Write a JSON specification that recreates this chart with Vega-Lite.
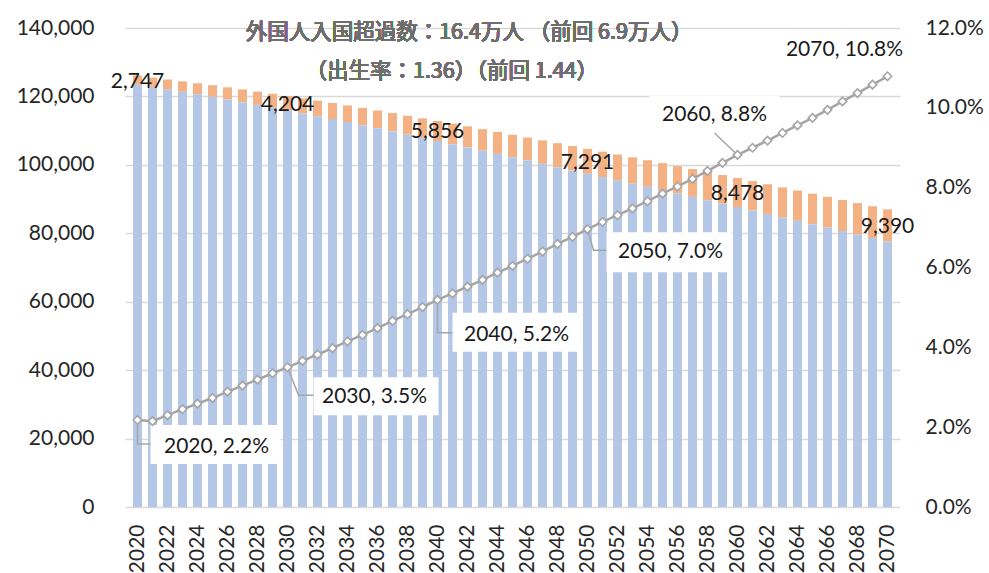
{
  "$schema": "https://vega.github.io/schema/vega-lite/v6.json",
  "width": 775,
  "height": 479,
  "autosize": {"type": "none"},
  "padding": {"left": 125, "top": 28, "right": 89, "bottom": 66},
  "background": "white",
  "config": {
    "view": {"stroke": null},
    "font": "Lato",
    "axis": {"labelFont": "Lato", "labelFontSize": 21, "labelColor": "#262626"}
  },
  "data": {
    "values": [
      {"year": 2020, "japanese": 123399, "foreign": 2747, "total": 126146, "pct": 2.18},
      {"year": 2021, "japanese": 122802, "foreign": 2700, "total": 125502, "pct": 2.15},
      {"year": 2022, "japanese": 122067, "foreign": 2880, "total": 124947, "pct": 2.30},
      {"year": 2023, "japanese": 121358, "foreign": 3050, "total": 124408, "pct": 2.45},
      {"year": 2024, "japanese": 120634, "foreign": 3210, "total": 123844, "pct": 2.59},
      {"year": 2025, "japanese": 119892, "foreign": 3370, "total": 123262, "pct": 2.73},
      {"year": 2026, "japanese": 119121, "foreign": 3540, "total": 122661, "pct": 2.89},
      {"year": 2027, "japanese": 118334, "foreign": 3710, "total": 122044, "pct": 3.04},
      {"year": 2028, "japanese": 117539, "foreign": 3875, "total": 121414, "pct": 3.19},
      {"year": 2029, "japanese": 116731, "foreign": 4040, "total": 120771, "pct": 3.35},
      {"year": 2030, "japanese": 115912, "foreign": 4204, "total": 120116, "pct": 3.50},
      {"year": 2031, "japanese": 115078, "foreign": 4370, "total": 119448, "pct": 3.66},
      {"year": 2032, "japanese": 114232, "foreign": 4535, "total": 118767, "pct": 3.82},
      {"year": 2033, "japanese": 113374, "foreign": 4700, "total": 118074, "pct": 3.98},
      {"year": 2034, "japanese": 112502, "foreign": 4865, "total": 117367, "pct": 4.15},
      {"year": 2035, "japanese": 111609, "foreign": 5030, "total": 116639, "pct": 4.31},
      {"year": 2036, "japanese": 110695, "foreign": 5195, "total": 115890, "pct": 4.48},
      {"year": 2037, "japanese": 109770, "foreign": 5360, "total": 115130, "pct": 4.66},
      {"year": 2038, "japanese": 108825, "foreign": 5525, "total": 114350, "pct": 4.83},
      {"year": 2039, "japanese": 107910, "foreign": 5690, "total": 113600, "pct": 5.01},
      {"year": 2040, "japanese": 106981, "foreign": 5856, "total": 112837, "pct": 5.19},
      {"year": 2041, "japanese": 106050, "foreign": 6000, "total": 112050, "pct": 5.35},
      {"year": 2042, "japanese": 105107, "foreign": 6143, "total": 111250, "pct": 5.52},
      {"year": 2043, "japanese": 104153, "foreign": 6287, "total": 110440, "pct": 5.69},
      {"year": 2044, "japanese": 103195, "foreign": 6430, "total": 109625, "pct": 5.87},
      {"year": 2045, "japanese": 102227, "foreign": 6574, "total": 108801, "pct": 6.04},
      {"year": 2046, "japanese": 101263, "foreign": 6717, "total": 107980, "pct": 6.22},
      {"year": 2047, "japanese": 100299, "foreign": 6861, "total": 107160, "pct": 6.40},
      {"year": 2048, "japanese": 99336, "foreign": 7004, "total": 106340, "pct": 6.59},
      {"year": 2049, "japanese": 98367, "foreign": 7148, "total": 105515, "pct": 6.77},
      {"year": 2050, "japanese": 97395, "foreign": 7291, "total": 104686, "pct": 6.96},
      {"year": 2051, "japanese": 96440, "foreign": 7410, "total": 103850, "pct": 7.14},
      {"year": 2052, "japanese": 95491, "foreign": 7529, "total": 103020, "pct": 7.31},
      {"year": 2053, "japanese": 94537, "foreign": 7648, "total": 102185, "pct": 7.48},
      {"year": 2054, "japanese": 93584, "foreign": 7766, "total": 101350, "pct": 7.66},
      {"year": 2055, "japanese": 92623, "foreign": 7885, "total": 100508, "pct": 7.85},
      {"year": 2056, "japanese": 91636, "foreign": 8004, "total": 99640, "pct": 8.03},
      {"year": 2057, "japanese": 90648, "foreign": 8122, "total": 98770, "pct": 8.22},
      {"year": 2058, "japanese": 89659, "foreign": 8241, "total": 97900, "pct": 8.42},
      {"year": 2059, "japanese": 88666, "foreign": 8359, "total": 97025, "pct": 8.62},
      {"year": 2060, "japanese": 87670, "foreign": 8478, "total": 96148, "pct": 8.82},
      {"year": 2061, "japanese": 86671, "foreign": 8569, "total": 95240, "pct": 9.00},
      {"year": 2062, "japanese": 85670, "foreign": 8660, "total": 94330, "pct": 9.18},
      {"year": 2063, "japanese": 84668, "foreign": 8752, "total": 93420, "pct": 9.37},
      {"year": 2064, "japanese": 83662, "foreign": 8843, "total": 92505, "pct": 9.56},
      {"year": 2065, "japanese": 82653, "foreign": 8934, "total": 91587, "pct": 9.75},
      {"year": 2066, "japanese": 81645, "foreign": 9025, "total": 90670, "pct": 9.95},
      {"year": 2067, "japanese": 80634, "foreign": 9116, "total": 89750, "pct": 10.16},
      {"year": 2068, "japanese": 79622, "foreign": 9208, "total": 88830, "pct": 10.37},
      {"year": 2069, "japanese": 78616, "foreign": 9299, "total": 87915, "pct": 10.58},
      {"year": 2070, "japanese": 77606, "foreign": 9390, "total": 86996, "pct": 10.79}
    ]
  },
  "encoding": {
    "x": {
      "field": "year",
      "type": "quantitative",
      "scale": {"domain": [2019.5, 2070.5], "nice": false, "zero": false},
      "axis": {
        "title": null,
        "values": [2020, 2022, 2024, 2026, 2028, 2030, 2032, 2034, 2036, 2038, 2040, 2042, 2044, 2046, 2048, 2050, 2052, 2054, 2056, 2058, 2060, 2062, 2064, 2066, 2068, 2070],
        "format": "d",
        "labelAngle": -90,
        "labelPadding": 17,
        "ticks": false,
        "domain": false,
        "grid": false,
        "labelOverlap": false
      }
    }
  },
  "layer": [
    {
      "layer": [
        {
          "mark": {"type": "bar", "size": 9, "color": "#F4B183"},
          "encoding": {
            "y": {
              "field": "total",
              "type": "quantitative",
              "scale": {"domain": [0, 140000], "nice": false},
              "axis": {
                "title": null,
                "values": [0, 20000, 40000, 60000, 80000, 100000, 120000, 140000],
                "labelExpr": "format(datum.value, ',')",
                "domain": false,
                "ticks": false,
                "labelPadding": 31,
                "grid": true,
                "gridColor": "#D9D9D9",
                "gridWidth": 1.3
              }
            },
            "y2": {"field": "japanese"}
          }
        },
        {
          "mark": {"type": "bar", "size": 9, "color": "#B4C7E7"},
          "encoding": {"y": {"field": "japanese", "type": "quantitative"}}
        },
        {
          "transform": [{"filter": {"field": "year", "oneOf": [2020, 2030, 2040, 2050, 2060, 2070]}}],
          "mark": {"type": "text", "fontSize": 21, "color": "#1a1a1a", "baseline": "middle", "align": "center", "dy": {"expr": "datum.foreign * height / 280000 + 1.5"}},
          "encoding": {
            "y": {"field": "total", "type": "quantitative"},
            "text": {"field": "foreign", "type": "quantitative", "format": ","}
          }
        },
        {
          "mark": {"type": "text", "text": "外国人入国超過数：16.4万人 （前回 6.9万人）", "font": "Noto Sans CJK JP", "fontSize": 21.5, "color": "#6e6e6e", "align": "center", "baseline": "middle"},
          "encoding": {"x": {"datum": 2042.1}, "y": {"datum": 138600}}
        },
        {
          "mark": {"type": "text", "text": "（出生率：1.36）（前回 1.44）", "font": "Noto Sans CJK JP", "fontSize": 21.5, "color": "#6e6e6e", "align": "center", "baseline": "middle"},
          "encoding": {"x": {"datum": 2040.95}, "y": {"datum": 127200}}
        }
      ]
    },
    {
      "encoding": {
        "y": {
          "field": "pct",
          "type": "quantitative",
          "scale": {"domain": [0, 12], "nice": false},
          "axis": {
            "orient": "right",
            "title": null,
            "values": [0, 2, 4, 6, 8, 10, 12],
            "labelExpr": "format(datum.value, '.1f') + '%'",
            "domain": false,
            "ticks": false,
            "grid": false,
            "labelPadding": 25
          }
        }
      },
      "layer": [
        {"transform": [{"filter": "datum.year == 2020"}], "mark": {"type": "point", "shape": "M13,5H143V44H13Z", "size": 4, "filled": true, "fill": "white", "strokeWidth": 0, "opacity": 1}},
        {"transform": [{"filter": "datum.year == 2020"}], "mark": {"type": "point", "shape": "M0,0V24H13", "size": 4, "filled": false, "stroke": "#A5A5A5", "strokeWidth": 1.5, "opacity": 1}},
        {"transform": [{"filter": "datum.year == 2030"}], "mark": {"type": "point", "shape": "M26,10H151V48H26Z", "size": 4, "filled": true, "fill": "white", "strokeWidth": 0, "opacity": 1}},
        {"transform": [{"filter": "datum.year == 2030"}], "mark": {"type": "point", "shape": "M0,0L11,28H26", "size": 4, "filled": false, "stroke": "#A5A5A5", "strokeWidth": 1.5, "opacity": 1}},
        {"transform": [{"filter": "datum.year == 2040"}], "mark": {"type": "point", "shape": "M15,13H141V52H15Z", "size": 4, "filled": true, "fill": "white", "strokeWidth": 0, "opacity": 1}},
        {"transform": [{"filter": "datum.year == 2040"}], "mark": {"type": "point", "shape": "M0,0V33H15", "size": 4, "filled": false, "stroke": "#A5A5A5", "strokeWidth": 1.5, "opacity": 1}},
        {"transform": [{"filter": "datum.year == 2050"}], "mark": {"type": "point", "shape": "M19,3H144V43H19Z", "size": 4, "filled": true, "fill": "white", "strokeWidth": 0, "opacity": 1}},
        {"transform": [{"filter": "datum.year == 2050"}], "mark": {"type": "point", "shape": "M0,0L6,21H19", "size": 4, "filled": false, "stroke": "#A5A5A5", "strokeWidth": 1.5, "opacity": 1}},
        {"transform": [{"filter": "datum.year == 2060"}], "mark": {"type": "point", "shape": "M-88,-59H42V-21H-88Z", "size": 4, "filled": true, "fill": "white", "strokeWidth": 0, "opacity": 1}},
        {"transform": [{"filter": "datum.year == 2060"}], "mark": {"type": "point", "shape": "M0,0L-23,-22", "size": 4, "filled": false, "stroke": "#A5A5A5", "strokeWidth": 1.5, "opacity": 1}},
        {"mark": {"type": "line", "color": "#A5A5A5", "strokeWidth": 2.5}},
        {"mark": {"type": "point", "shape": "diamond", "filled": true, "fill": "white", "stroke": "#A5A5A5", "strokeWidth": 1.6, "size": 72, "opacity": 1}},
        {"transform": [{"filter": "datum.year == 2020"}], "mark": {"type": "text", "text": "2020, 2.2%", "dx": 79, "dy": 27, "fontSize": 21, "align": "center", "baseline": "middle", "color": "#1a1a1a"}},
        {"transform": [{"filter": "datum.year == 2030"}], "mark": {"type": "text", "text": "2030, 3.5%", "dx": 87, "dy": 30, "fontSize": 21, "align": "center", "baseline": "middle", "color": "#1a1a1a"}},
        {"transform": [{"filter": "datum.year == 2040"}], "mark": {"type": "text", "text": "2040, 5.2%", "dx": 79, "dy": 35, "fontSize": 21, "align": "center", "baseline": "middle", "color": "#1a1a1a"}},
        {"transform": [{"filter": "datum.year == 2050"}], "mark": {"type": "text", "text": "2050, 7.0%", "dx": 83, "dy": 23, "fontSize": 21, "align": "center", "baseline": "middle", "color": "#1a1a1a"}},
        {"transform": [{"filter": "datum.year == 2060"}], "mark": {"type": "text", "text": "2060, 8.8%", "dx": -23, "dy": -40, "fontSize": 21, "align": "center", "baseline": "middle", "color": "#1a1a1a"}},
        {"transform": [{"filter": "datum.year == 2070"}], "mark": {"type": "text", "text": "2070, 10.8%", "dx": -43, "dy": -26, "fontSize": 21, "align": "center", "baseline": "middle", "color": "#1a1a1a"}}
      ]
    }
  ],
  "resolve": {"scale": {"y": "independent"}, "axis": {"y": "independent"}}
}
